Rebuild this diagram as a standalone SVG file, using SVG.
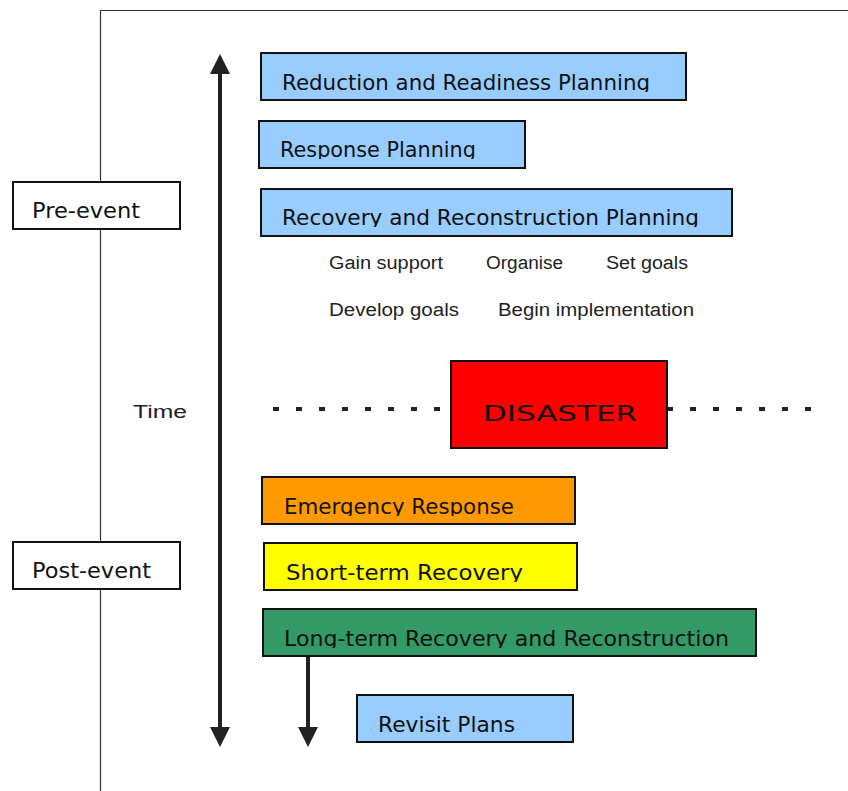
<svg xmlns="http://www.w3.org/2000/svg" width="848" height="791" viewBox="0 0 848 791">
<style>
  .frame{fill:none;stroke:#333;stroke-width:1.2}
  .box{stroke:#111;stroke-width:2}
  .blue{fill:#99ccff}
  .lbl{font-family:"DejaVu Sans","Liberation Sans",sans-serif;font-size:21.5px;fill:#111}
  .small{font-family:"Liberation Sans",Arial,sans-serif;font-size:18px;fill:#222}
  .arrow{stroke:#222;stroke-width:4;fill:none}
  .dots{stroke:#222;stroke-width:4;stroke-dasharray:6 17;fill:none}
</style>
<defs>
  <marker id="head" markerUnits="userSpaceOnUse" markerWidth="20" markerHeight="20" refX="0" refY="10" orient="auto">
    <path d="M0,0 L20,10 L0,20 z" fill="#222"/>
  </marker>
  <clipPath id="c1"><rect x="0" y="0" width="848" height="92"/></clipPath>
  <clipPath id="c2"><rect x="0" y="0" width="848" height="159"/></clipPath>
  <clipPath id="c3"><rect x="0" y="0" width="848" height="227"/></clipPath>
  <clipPath id="c4"><rect x="0" y="0" width="848" height="516"/></clipPath>
  <clipPath id="c5"><rect x="0" y="0" width="848" height="582"/></clipPath>
  <clipPath id="c6"><rect x="0" y="0" width="848" height="648"/></clipPath>
</defs>

<g id="frame">
  <line class="frame" x1="100" y1="10.5" x2="848" y2="10.5"/>
  <line class="frame" x1="100.5" y1="10" x2="100.5" y2="791"/>
</g>

<g id="connectors">
  <line class="arrow" x1="220" y1="400" x2="220" y2="74" marker-end="url(#head)"/>
  <line class="arrow" x1="220" y1="400" x2="220" y2="727" marker-end="url(#head)"/>
  <line class="arrow" x1="308" y1="657" x2="308" y2="727" marker-end="url(#head)"/>
  <line class="dots" x1="273" y1="409" x2="450" y2="409"/>
  <line class="dots" x1="667" y1="409" x2="815" y2="409"/>
</g>

<g id="pre-event">
  <rect class="box" x="13" y="182" width="167" height="47" fill="#fff" stroke-width="1.8"/>
  <text class="lbl" x="32" y="218" textLength="108" lengthAdjust="spacingAndGlyphs">Pre-event</text>
</g>
<g id="post-event">
  <rect class="box" x="13" y="542" width="167" height="47" fill="#fff" stroke-width="1.8"/>
  <text class="lbl" x="32" y="578" textLength="119" lengthAdjust="spacingAndGlyphs">Post-event</text>
</g>

<g id="reduction">
  <rect class="box blue" x="261" y="53" width="425" height="47"/>
  <text class="lbl" x="282" y="90" textLength="368" lengthAdjust="spacingAndGlyphs" clip-path="url(#c1)">Reduction and Readiness Planning</text>
</g>
<g id="response-planning">
  <rect class="box blue" x="259" y="121" width="266" height="47"/>
  <text class="lbl" x="280" y="157" textLength="196" lengthAdjust="spacingAndGlyphs" clip-path="url(#c2)">Response Planning</text>
</g>
<g id="recovery-planning">
  <rect class="box blue" x="261" y="189" width="471" height="47"/>
  <text class="lbl" x="282" y="225" textLength="417" lengthAdjust="spacingAndGlyphs" clip-path="url(#c3)">Recovery and Reconstruction Planning</text>
</g>

<g id="steps">
  <text class="small" x="329" y="269" textLength="114" lengthAdjust="spacingAndGlyphs">Gain support</text>
  <text class="small" x="486" y="269" textLength="77" lengthAdjust="spacingAndGlyphs">Organise</text>
  <text class="small" x="606" y="269" textLength="82" lengthAdjust="spacingAndGlyphs">Set goals</text>
  <text class="small" x="329" y="316" textLength="130" lengthAdjust="spacingAndGlyphs">Develop goals</text>
  <text class="small" x="498" y="316" textLength="196" lengthAdjust="spacingAndGlyphs">Begin implementation</text>
</g>

<g id="time">
  <text class="small" x="133" y="418" font-size="27" textLength="54" lengthAdjust="spacingAndGlyphs">Time</text>
</g>

<g id="disaster">
  <rect class="box" x="451" y="361" width="216" height="87" fill="#ff0000" stroke-width="2.2"/>
  <text class="lbl" x="483" y="421" font-size="30" textLength="154" lengthAdjust="spacingAndGlyphs">DISASTER</text>
</g>

<g id="emergency-response">
  <rect class="box" x="262" y="477" width="313" height="47" fill="#ff9900"/>
  <text class="lbl" x="284" y="514" textLength="230" lengthAdjust="spacingAndGlyphs" clip-path="url(#c4)">Emergency Response</text>
</g>
<g id="short-term">
  <rect class="box" x="264" y="543" width="313" height="47" fill="#ffff00"/>
  <text class="lbl" x="286" y="580" textLength="237" lengthAdjust="spacingAndGlyphs" clip-path="url(#c5)">Short-term Recovery</text>
</g>
<g id="long-term">
  <rect class="box" x="263" y="609" width="493" height="47" fill="#339966"/>
  <text class="lbl" x="284" y="646" textLength="445" lengthAdjust="spacingAndGlyphs" clip-path="url(#c6)">Long-term Recovery and Reconstruction</text>
</g>
<g id="revisit-plans">
  <rect class="box blue" x="357" y="695" width="216" height="47"/>
  <text class="lbl" x="378" y="732" textLength="137" lengthAdjust="spacingAndGlyphs">Revisit Plans</text>
</g>
</svg>
